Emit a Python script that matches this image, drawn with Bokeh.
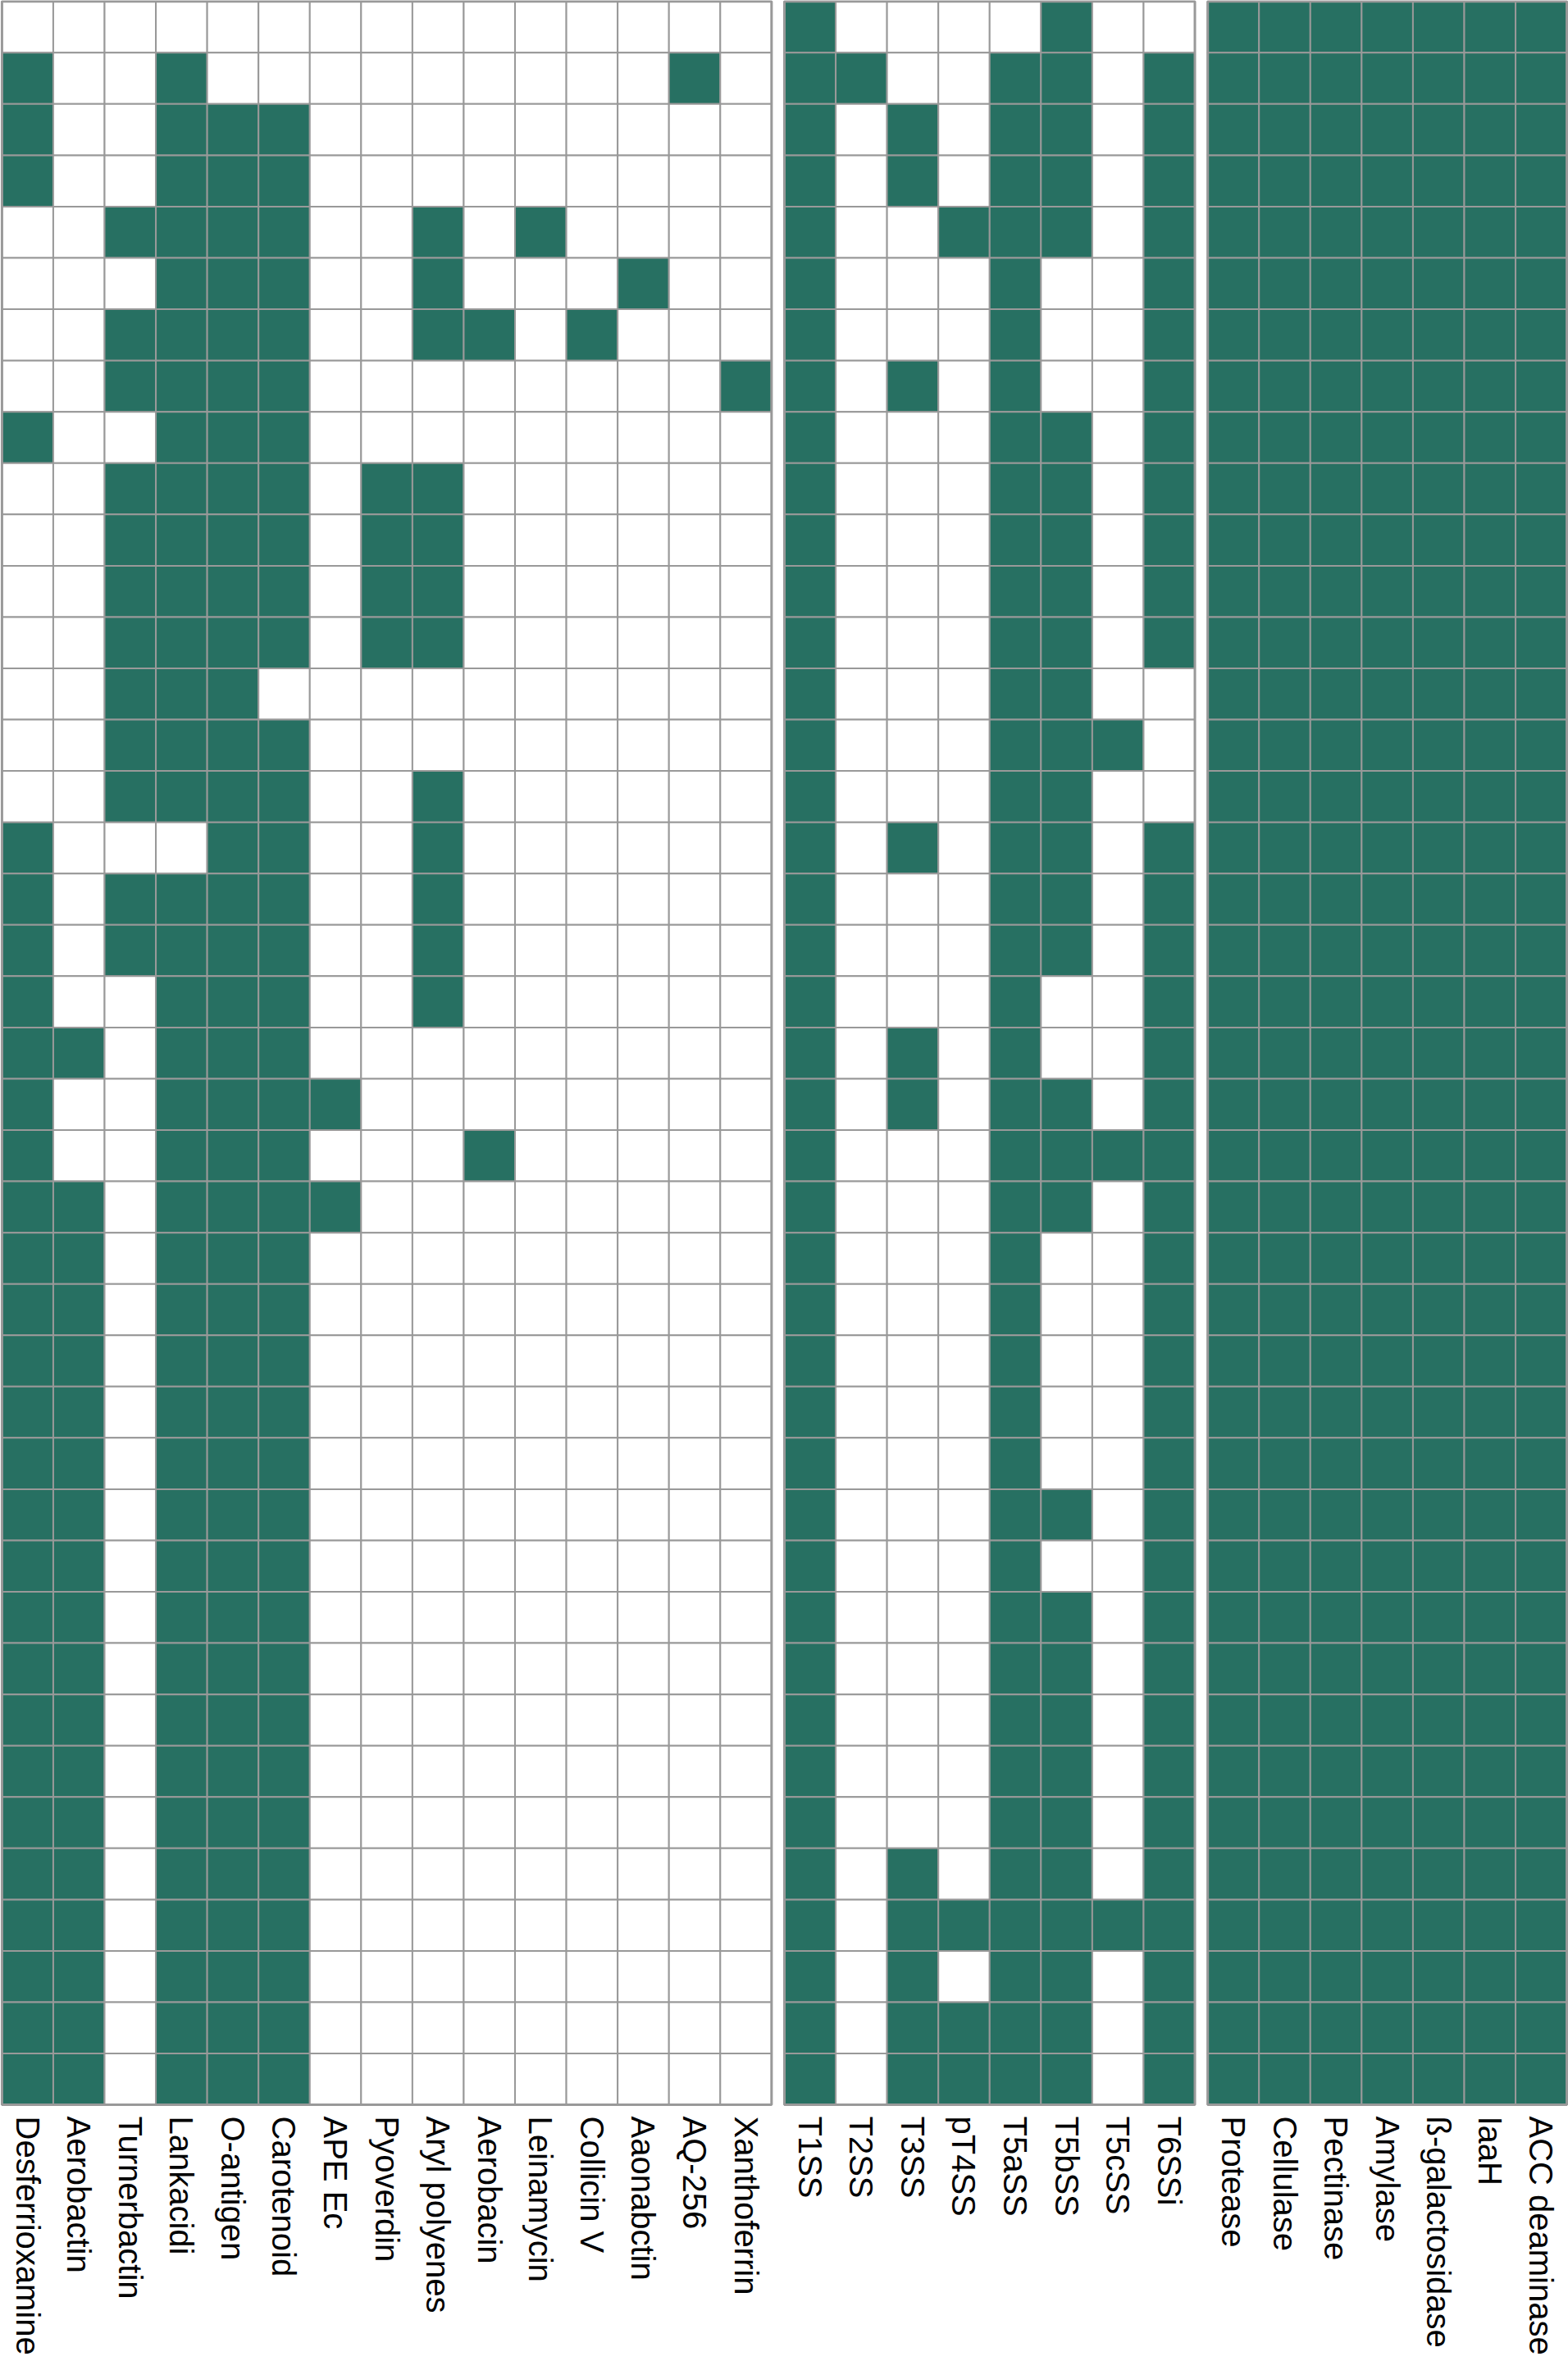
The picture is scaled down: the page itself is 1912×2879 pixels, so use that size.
import math
from bokeh.plotting import figure
from bokeh.models import ColumnDataSource, Range1d, FixedTicker
from bokeh.embed import file_html
from bokeh.resources import INLINE

# ---- data ----
sider_names = ["Desferrioxamine", "Aerobactin", "Turnerbactin", "Lankacidi", "O-antigen",
               "Carotenoid", "APE Ec", "Pyoverdin", "Aryl polyenes", "Aerobacin",
               "Leinamycin", "Collicin V", "Aaonabctin", "AQ-256", "Xanthoferrin"]
sider_rows = [
    "000000000000000",
    "100100000000010",
    "100111000000000",
    "100111000000000",
    "001111001010000",
    "000111001000100",
    "001111001101000",
    "001111000000001",
    "100111000000000",
    "001111011000000",
    "001111011000000",
    "001111011000000",
    "001111011000000",
    "001110000000000",
    "001111000000000",
    "001111001000000",
    "100011001000000",
    "101111001000000",
    "101111001000000",
    "100111001000000",
    "110111000000000",
    "100111100000000",
    "100111000100000",
    "110111100000000",
] + ["110111000000000"] * 17

secretion_names = ["T1SS", "T2SS", "T3SS", "pT4SS", "T5aSS", "T5bSS", "T5cSS", "T6SSi"]
secretion_rows = [
    "10000100",
    "11001101",
    "10101101",
    "10101101",
    "10011101",
    "10001001",
    "10001001",
    "10101001",
    "10001101",
    "10001101",
    "10001101",
    "10001101",
    "10001101",
    "10001100",
    "10001110",
    "10001100",
    "10101101",
    "10001101",
    "10001101",
    "10001001",
    "10101001",
    "10101101",
    "10001111",
    "10001101",
    "10001001",
    "10001001",
    "10001001",
    "10001001",
    "10001001",
    "10001101",
    "10001001",
    "10001101",
    "10001101",
    "10001101",
    "10001101",
    "10001101",
    "10101101",
    "10111111",
    "10101101",
    "10111101",
    "10111101",
]

enzyme_names = ["Protease", "Cellulase", "Pectinase", "Amylase", "ß-galactosidase", "IaaH", "ACC deaminase"]
enzyme_rows = ["1111111"] * 41

# ---- layout ----
FILL = "#277062"
EMPTY = "#ffffff"
GRID = "#999999"
panels = [(sider_names, sider_rows, 0.0), (secretion_names, secretion_rows, 15.25),
          (enzyme_names, enzyme_rows, 23.5)]

xs, ys, colors = [], [], []
ticks, overrides = [], {}
bx, bw, by, bh = [], [], [], []
for names, rows, off in panels:
    for r, row in enumerate(rows):
        for c, v in enumerate(row):
            xs.append(off + c + 0.5)
            ys.append(r + 0.5)
            colors.append(FILL if v == "1" else EMPTY)
    for c, n in enumerate(names):
        t = off + c + 0.5
        ticks.append(t)
        overrides[t] = n
    bx.append(off + len(names) / 2)
    bw.append(len(names))
    by.append(len(rows) / 2)
    bh.append(len(rows))

nrows = len(sider_rows)
p = figure(width=1912, height=2879,
           x_range=Range1d(-0.03, 30.53), y_range=Range1d(nrows + 0.03, -0.02),
           output_backend="svg", toolbar_location=None, y_axis_location=None,
           min_border_left=0, min_border_right=0, min_border_top=0, min_border_bottom=311)
p.outline_line_color = None
p.xgrid.visible = False
p.ygrid.visible = False
p.background_fill_color = "white"
p.border_fill_color = "white"

src = ColumnDataSource(dict(x=xs, y=ys, color=colors))
p.rect("x", "y", width=1, height=1, source=src, fill_color="color",
       line_color=GRID, line_width=2)
p.rect(bx, by, width=bw, height=bh, fill_alpha=0, line_color=GRID, line_width=3)

ax = p.xaxis[0]
ax.ticker = FixedTicker(ticks=ticks)
ax.major_label_overrides = overrides
ax.major_label_orientation = -math.pi / 2
ax.axis_line_color = None
ax.major_tick_line_color = None
ax.minor_tick_line_color = None
ax.major_tick_out = 0
ax.major_tick_in = 0
ax.major_label_standoff = 12
ax.major_label_text_font = "Liberation Sans"
ax.major_label_text_font_size = "40px"
ax.major_label_text_color = "black"

open("out.html", "w").write(file_html(p, INLINE))
